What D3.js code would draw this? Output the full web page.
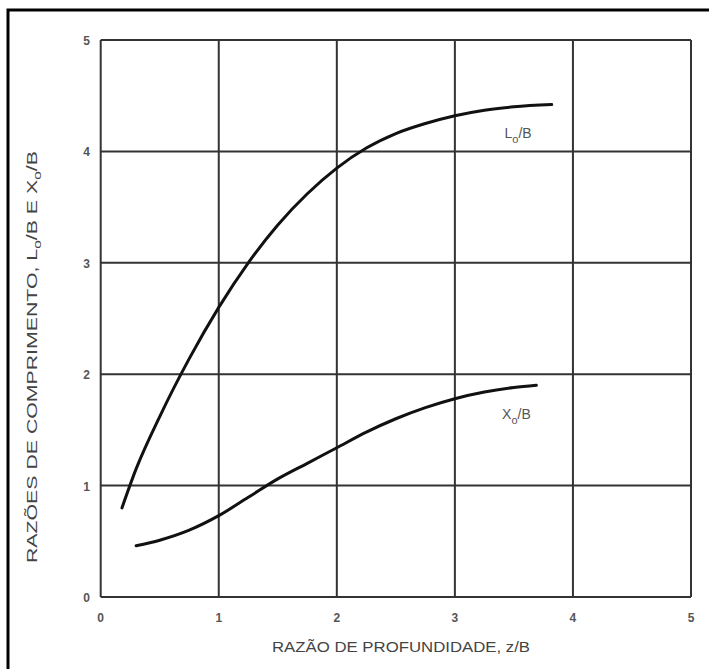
<!DOCTYPE html>
<html>
<head>
<meta charset="utf-8">
<script src="https://cdn.jsdelivr.net/npm/d3@7"></script>
<style>
  body { margin: 0; background: #fff; }
  svg { display: block; }
  text { font-family: "Liberation Sans", Arial, sans-serif; }
</style>
</head>
<body>
<svg id="chart" width="709" height="669"></svg>
<script>
// values (z/B, ratio)
var xTicks = [0, 1, 2, 3, 4, 5]
var yTicks = [0, 1, 2, 3, 4, 5]
var loCurve = [[0.18, 0.80], [0.3, 1.15], [0.5, 1.62], [0.75, 2.14], [1.0, 2.60], [1.25, 3.0],
  [1.5, 3.34], [1.75, 3.62], [2.0, 3.85], [2.25, 4.03], [2.5, 4.16], [2.75, 4.25],
  [3.0, 4.32], [3.25, 4.37], [3.5, 4.40], [3.82, 4.42]]
var xoCurve = [[0.30, 0.46], [0.5, 0.51], [0.75, 0.60], [1.0, 0.73], [1.25, 0.895], [1.5, 1.06],
  [1.75, 1.20], [2.0, 1.34], [2.25, 1.48], [2.5, 1.60], [2.75, 1.70], [3.0, 1.78],
  [3.25, 1.84], [3.5, 1.88], [3.69, 1.90]]
var xTitle = 'RAZÃO DE PROFUNDIDADE, z/B'

var svg = d3.select('#chart')

// outer frame (only left and top edges fall inside the picture)
svg.append('rect')
  .attr('x', 8).attr('y', 10)
  .attr('width', 720).attr('height', 700)
  .attr('fill', 'none').attr('stroke', '#000').attr('stroke-width', 3)

var x = d3.scaleLinear().domain([0, 5]).range([100.7, 691])
var y = d3.scaleLinear().domain([0, 5]).range([597, 40])

// grid
var grid = svg.append('g').attr('stroke', '#333').attr('stroke-width', 2)
grid.selectAll('.vx').data(xTicks).enter().append('line')
  .attr('x1', function (d) { return x(d) }).attr('x2', function (d) { return x(d) })
  .attr('y1', y(0)).attr('y2', y(5))
grid.selectAll('.hy').data(yTicks).enter().append('line')
  .attr('y1', function (d) { return y(d) }).attr('y2', function (d) { return y(d) })
  .attr('x1', x(0)).attr('x2', x(5))

// tick labels
svg.append('g').selectAll('text').data(xTicks).enter().append('text')
  .attr('x', function (d) { return x(d) }).attr('y', 622)
  .attr('text-anchor', 'middle').attr('font-size', 12).attr('font-weight', 'bold')
  .attr('fill', '#555').text(function (d) { return d })
svg.append('g').selectAll('text').data(yTicks).enter().append('text')
  .attr('x', 90).attr('y', function (d) { return y(d) + 5 })
  .attr('text-anchor', 'end').attr('font-size', 12).attr('font-weight', 'bold')
  .attr('fill', '#555').text(function (d) { return d })

// curves
var line = d3.line()
  .x(function (d) { return x(d[0]) })
  .y(function (d) { return y(d[1]) })
  .curve(d3.curveMonotoneX)
;[loCurve, xoCurve].forEach(function (c) {
  svg.append('path').datum(c).attr('d', line)
    .attr('fill', 'none').attr('stroke', '#111').attr('stroke-width', 3)
    .attr('stroke-linecap', 'round')
})

// curve labels with subscript o
function ratioLabel (sel, letter) {
  sel.append('tspan').text(letter)
  sel.append('tspan').attr('dy', 5).attr('font-size', 11).text('o')
  sel.append('tspan').attr('dy', -5).text('/B')
}
ratioLabel(svg.append('text').attr('x', x(3.42)).attr('y', y(4.12))
  .attr('font-size', 14).attr('fill', '#555'), 'L')
ratioLabel(svg.append('text').attr('x', x(3.4)).attr('y', y(1.6))
  .attr('font-size', 14).attr('fill', '#555'), 'X')

// axis titles
svg.append('text')
  .attr('x', 401).attr('y', 652)
  .attr('text-anchor', 'middle').attr('font-size', 14).attr('fill', '#444')
  .attr('textLength', 258).attr('lengthAdjust', 'spacingAndGlyphs')
  .text(xTitle)

// the y title is stretched along its length in the original
var yt = svg.append('text')
  .attr('transform', 'translate(37,357) rotate(-90) scale(1.42,1)')
  .attr('text-anchor', 'middle').attr('font-size', 15).attr('fill', '#444')
yt.append('tspan').text('RAZÕES DE COMPRIMENTO, L')
yt.append('tspan').attr('dy', 4).attr('font-size', 11).text('o')
yt.append('tspan').attr('dy', -4).text('/B E X')
yt.append('tspan').attr('dy', 4).attr('font-size', 11).text('o')
yt.append('tspan').attr('dy', -4).text('/B')
</script>
</body>
</html>
